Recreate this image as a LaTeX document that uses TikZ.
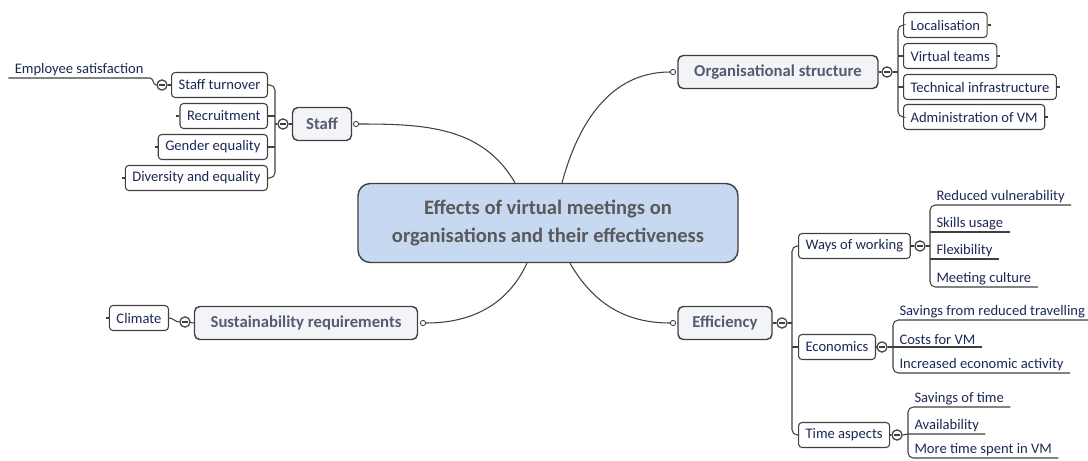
\documentclass[tikz,border=0pt]{standalone}
\usepackage{fontspec}
\setmainfont{Carlito}
\usetikzlibrary{positioning, calc}

\definecolor{linegray}{RGB}{64,64,64}
\definecolor{centerfill}{RGB}{198,217,241}
\definecolor{titlegray}{RGB}{89,89,89}
\definecolor{topicfill}{RGB}{243,244,248}
\definecolor{topictext}{RGB}{85,92,110}
\definecolor{subblue}{RGB}{28,40,85}

\begin{document}
\begin{tikzpicture}[
        x=0.2mm, y=-0.2mm,
        every node/.style={font=\fontsize{8.3}{10}\selectfont, text=subblue},
        link/.style={draw=linegray, line width=0.6pt},
        central/.style={draw=linegray, line width=0.8pt, rounded corners=7pt, fill=centerfill, text=titlegray,
            font=\bfseries\fontsize{11.7}{16}\selectfont, align=center, minimum width=7.6cm, minimum height=1.58cm},
        topic/.style={draw=linegray, line width=0.8pt, rounded corners=3pt, fill=topicfill, text=topictext,
            font=\bfseries\fontsize{9.5}{11}\selectfont, minimum height=0.66cm},
        subtopic/.style={draw=linegray, line width=0.6pt, rounded corners=2pt, fill=white, inner xsep=4pt, minimum height=0.5cm},
        leaf/.style={inner xsep=3.5pt, inner ysep=1.2pt},
        minus/.style={circle, draw=linegray, line width=0.7pt, fill=white, inner sep=0pt, minimum size=5.8pt,
            path picture={\draw[linegray, line width=0.7pt] ([xshift=-1.6pt]path picture bounding box.center) -- ([xshift=1.6pt]path picture bounding box.center);}},
        knob/.style={circle, draw=linegray, line width=0.5pt, fill=white, inner sep=0pt, minimum size=3pt}
    ]
        \useasboundingbox (0,0) rectangle (1088,461);

        % Chủ đề trung tâm
        \node [central](center) at (548,223) {Effects of virtual meetings on\\organisations and their effectiveness};

        % Các nhánh chính
        \node [topic, minimum width=1.18cm](staff) at (322,124) {Staff};
        \node [topic, minimum width=4cm](org) at (778,72) {Organisational structure};
        \node [topic, minimum width=4.46cm](sust) at (306,323) {Sustainability requirements};
        \node [topic, minimum width=1.88cm](eff) at (725,323) {Efficiency};

        \node [knob](staff-k) at (356,124) {};
        \node [knob](org-k) at (673,72) {};
        \node [knob](sust-k) at (423,323) {};
        \node [knob](eff-k) at (673,323) {};

        \draw[link] (staff-k) to[out=0, in=120] ($(center.north)+(-33,0)$);
        \draw[link] ($(center.north)+(14,0)$) to[out=75, in=180] (org-k);
        \draw[link] ($(center.south)+(-21,0)$) to[out=-115, in=0] (sust-k);
        \draw[link] ($(center.south)+(22,0)$) to[out=-60, in=180] (eff-k);

        % Staff
        \node [minus](staff-m) at (283,124) {};
        \coordinate (staff-b) at (275,124);
        \node [subtopic, anchor=east](stt) at (268,85) {Staff turnover};
        \node [subtopic, anchor=east](rec) at (268,116) {Recruitment};
        \node [subtopic, anchor=east](gen) at (268,147) {Gender equality};
        \node [subtopic, anchor=east](div) at (268,178) {Diversity and equality};
        \draw[link] (staff-m) -- (staff.west);
        \draw[link] (staff-m.west) -- (staff-b);
        \draw[link, rounded corners=3pt] (stt.east) -| (staff-b) |- (div.east);
        \draw[link] (rec.east) -- (rec.east -| staff-b);
        \draw[link] (gen.east) -- (gen.east -| staff-b);
        \foreach \n in {rec, gen, div}
            \draw[link] (\n.west) -- ++(-3,0);

        \node [minus](stt-m) at (162,85) {};
        \node [leaf, anchor=south east](es) at (150,78) {Employee satisfaction};
        \draw[link] (stt-m) -- (stt.west);
        \draw[link] (es.south west) -- (es.south east) to[out=0, in=180] (stt-m.west);

        % Organisational structure
        \node [minus](org-m) at (887,72) {};
        \coordinate (org-b) at (898,72);
        \node [subtopic, anchor=west](loc) at (903,25) {Localisation};
        \node [subtopic, anchor=west](vt) at (903,56) {Virtual teams};
        \node [subtopic, anchor=west](ti) at (903,87) {Technical infrastructure};
        \node [subtopic, anchor=west](adm) at (903,117) {Administration of VM};
        \draw[link] (org.east) -- (org-m);
        \draw[link] (org-m.east) -- (org-b);
        \draw[link, rounded corners=3pt] (loc.west) -| (org-b) |- (adm.west);
        \draw[link] (vt.west) -- (vt.west -| org-b);
        \draw[link] (ti.west) -- (ti.west -| org-b);
        \foreach \n in {loc, vt, ti, adm}
            \draw[link] (\n.east) -- ++(3,0);

        % Sustainability requirements
        \node [minus](sust-m) at (185,322) {};
        \node [subtopic, anchor=east](clim) at (169,318) {Climate};
        \draw[link] (sust.west) -- (sust-m);
        \draw[link] (clim.east) to[out=0, in=180] (sust-m.west);
        \draw[link] (clim.west) -- ++(-3,0);

        % Efficiency
        \node [minus](eff-m) at (782,323) {};
        \coordinate (eff-b) at (792,323);
        \node [subtopic, anchor=west](wow) at (798,246) {Ways of working};
        \node [subtopic, anchor=west](eco) at (798,347) {Economics};
        \node [subtopic, anchor=west](time) at (798,435) {Time aspects};
        \draw[link] (eff.east) -- (eff-m);
        \draw[link] (eff-m.east) -- (eff-b);
        \draw[link, rounded corners=3pt] (wow.west) -| (eff-b) |- (time.west);
        \draw[link] (eco.west) -- (eco.west -| eff-b);

        % Ways of working
        \node [minus](wow-m) at (920,246) {};
        \node [leaf, anchor=south west](rv) at (930,205) {Reduced vulnerability};
        \node [leaf, anchor=south west](su) at (930,232) {Skills usage};
        \node [leaf, anchor=south west](fl) at (930,259) {Flexibility};
        \node [leaf, anchor=south west](mc) at (930,287) {Meeting culture};
        \draw[link] (wow.east) -- (wow-m);
        \draw[link] (wow-m.east) -- (wow-m.east -| rv.south west);
        \draw[link, rounded corners=3pt] (rv.south east) -- (rv.south west) -- (mc.south west) -- (mc.south east);
        \draw[link] (su.south west) -- (su.south east);
        \draw[link] (fl.south west) -- (fl.south east);

        % Economics
        \node [minus](eco-m) at (882,347) {};
        \node [leaf, anchor=south west](sav) at (893,320) {Savings from reduced travelling};
        \node [leaf, anchor=south west](cost) at (893,347) {Costs for VM};
        \node [leaf, anchor=south west](inc) at (893,373) {Increased economic activity};
        \draw[link] (eco.east) -- (eco-m);
        \draw[link, rounded corners=3pt] (sav.south east) -- (sav.south west) -- (inc.south west) -- (inc.south east);
        \draw[link] (eco-m.east) -- (cost.south west) -- (cost.south east);

        % Time aspects
        \node [minus](time-m) at (897,435) {};
        \node [leaf, anchor=south west](sot) at (908,407) {Savings of time};
        \node [leaf, anchor=south west](av) at (908,434) {Availability};
        \node [leaf, anchor=south west](more) at (908,458) {More time spent in VM};
        \draw[link] (time.east) -- (time-m);
        \draw[link, rounded corners=3pt] (sot.south east) -- (sot.south west) -- (more.south west) -- (more.south east);
        \draw[link] (time-m.east) -- (av.south west) -- (av.south east);
    \end{tikzpicture}
\end{document}
